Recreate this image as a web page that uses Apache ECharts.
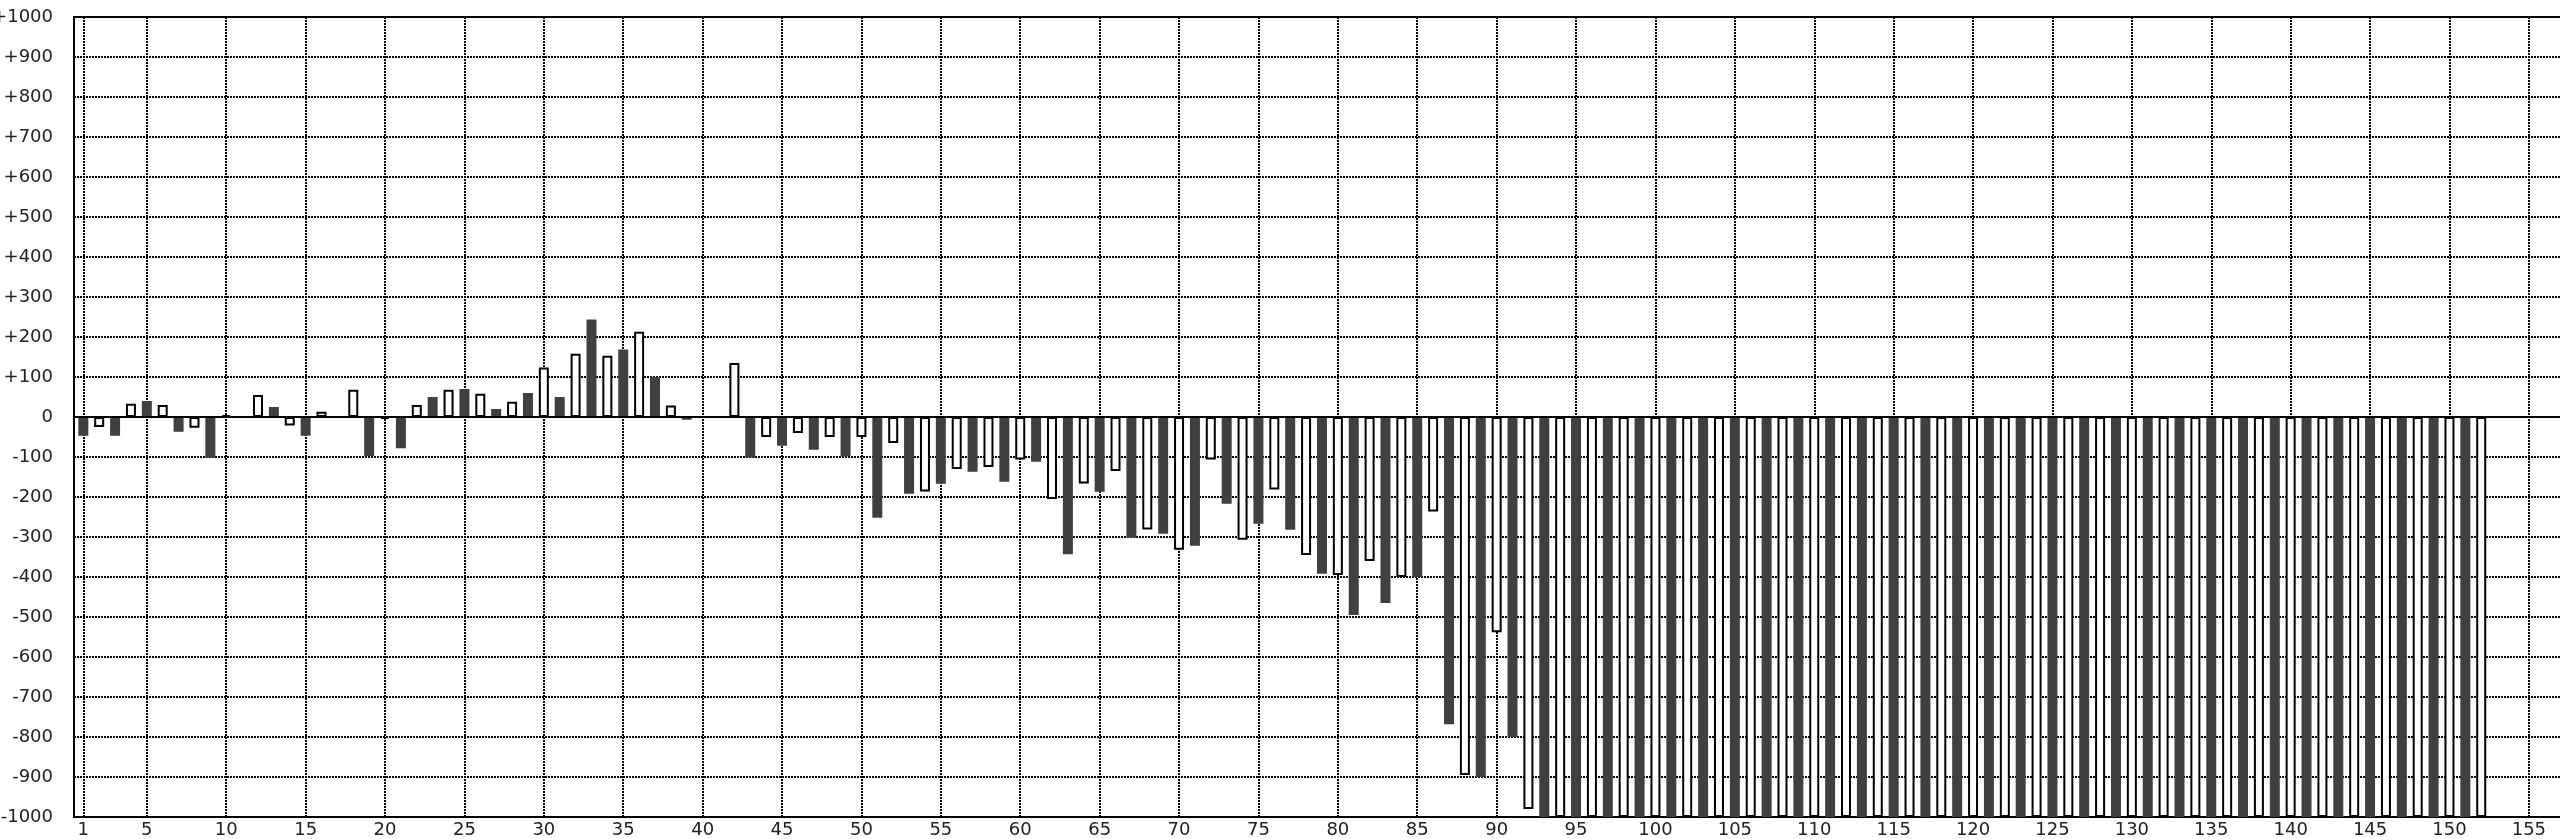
<!DOCTYPE html>
<html><head><meta charset="utf-8">
<script src="https://cdn.jsdelivr.net/npm/echarts@6/dist/echarts.min.js"></script>
<style>html,body{margin:0;padding:0;background:#fff}#c{width:2560px;height:839px}</style>
</head><body><div id="c"></div>
<script>
const categories = [
  1,2,3,4,5,6,7,8,9,10,11,12,13,14,15,16,17,18,19,20,
  21,22,23,24,25,26,27,28,29,30,31,32,33,34,35,36,37,38,39,40,
  41,42,43,44,45,46,47,48,49,50,51,52,53,54,55,56,57,58,59,60,
  61,62,63,64,65,66,67,68,69,70,71,72,73,74,75,76,77,78,79,80,
  81,82,83,84,85,86,87,88,89,90,91,92,93,94,95,96,97,98,99,100,
  101,102,103,104,105,106,107,108,109,110,111,112,113,114,115,116,117,118,119,120,
  121,122,123,124,125,126,127,128,129,130,131,132,133,134,135,136,137,138,139,140,
  141,142,143,144,145,146,147,148,149,150,151,152
];
const values = [
  -47,-25,-47,33,40,30,-37,-27,-102,5,0,55,25,-21,-47,13,0,68,-98,-5,
  -78,30,50,68,70,58,20,38,60,124,50,158,244,153,169,213,100,29,-7,0,
  0,135,-101,-50,-72,-40,-82,-50,-99,-50,-252,-65,-192,-186,-167,-130,-137,-125,-162,-106,
  -112,-205,-343,-166,-187,-135,-302,-281,-292,-332,-322,-106,-217,-307,-267,-181,-282,-345,-392,-395,
  -495,-360,-465,-400,-400,-236,-768,-895,-900,-538,-800,-980,-1000,-1000,-1000,-1000,-1000,-1000,-1000,-1000,
  -1000,-1000,-1000,-1000,-1000,-1000,-1000,-1000,-1000,-1000,-1000,-1000,-1000,-1000,-1000,-1000,-1000,-1000,-1000,-1000,
  -1000,-1000,-1000,-1000,-1000,-1000,-1000,-1000,-1000,-1000,-1000,-1000,-1000,-1000,-1000,-1000,-1000,-1000,-1000,-1000,
  -1000,-1000,-1000,-1000,-1000,-1000,-1000,-1000,-1000,-1000,-1000,-1000
];
const xTickValues = [1,5,10,15,20,25,30,35,40,45,50,55,60,65,70,75,80,85,90,95,100,105,110,115,120,125,130,135,140,145,150,155];

const darkData = [], whiteData = [];
categories.forEach((c, i) => {
  if (c % 2 === 1) darkData.push([c, values[i]]);
  else whiteData.push([c, values[i]]);
});

const font = {fontFamily: 'DejaVu Sans', fontSize: 18, color: '#222'};
const dotted = {color: '#000', width: 2, type: [2, 1]};

const chart = echarts.init(document.getElementById('c'), null, {renderer: 'canvas'});
chart.setOption({
  animation: false,
  backgroundColor: '#fff',
  grid: {left: 74, right: -20, top: 17, bottom: 22, containLabel: false, outerBoundsMode: 'none',
         show: true, borderColor: '#000', borderWidth: 2, backgroundColor: 'transparent'},
  xAxis: {
    type: 'value', min: 0.414, max: 158.22,
    axisLine: {show: false},
    axisTick: {show: false, customValues: xTickValues},
    axisLabel: Object.assign({customValues: xTickValues, margin: 4, hideOverlap: false}, font),
    splitLine: {show: true, lineStyle: dotted}
  },
  yAxis: {
    type: 'value', min: -1000, max: 1000, interval: 100,
    axisLine: {show: false},
    axisTick: {show: false},
    axisLabel: Object.assign({
      margin: 21,
      formatter: v => v > 0 ? '+' + v : (v < 0 ? '-' + Math.abs(v) : '0')
    }, font),
    splitLine: {show: true, lineStyle: dotted}
  },
  series: [
    {
      type: 'bar', name: 'odd', data: darkData, barWidth: 10, barGap: '-100%',
      itemStyle: {color: '#404040', borderColor: '#404040', borderWidth: 2},
      markLine: {
        silent: true, symbol: ['none', 'none'], label: {show: false}, animation: false,
        lineStyle: {color: '#000', width: 2, type: 'solid'},
        data: [{yAxis: 0}]
      }
    },
    {
      type: 'bar', name: 'even', data: whiteData, barWidth: 10, barGap: '-100%',
      itemStyle: {color: '#fff', borderColor: '#000', borderWidth: 2}
    }
  ]
});
</script>
</body></html>
